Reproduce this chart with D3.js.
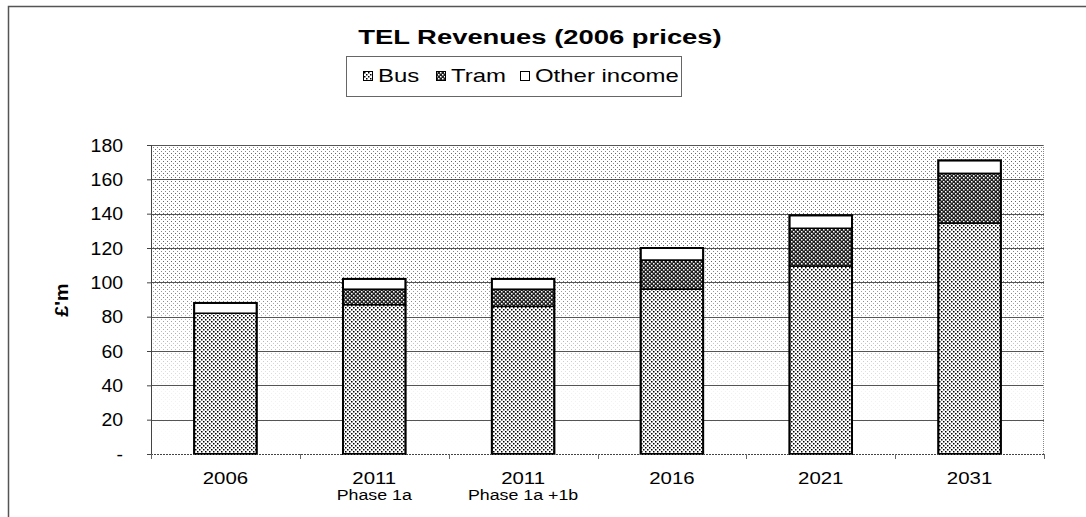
<!DOCTYPE html>
<meta charset="utf-8">
<script src="https://d3js.org/d3.v7.min.js"></script>
<style>
  body { margin: 0; background: #fff; }
  text { font-family: Arial, "Liberation Sans", sans-serif; fill: #000; }
</style>
<div id="chart"></div>
<script>

// data (£m, 2006 prices)
var years = ["2006", "2011", "2011b", "2016", "2021", "2031"];
var yearLabels = ["2006", "2011", "2011", "2016", "2021", "2031"];
var subLabels = ["", "Phase 1a", "Phase 1a +1b", "", "", ""];
var bus = [82, 87, 86, 96, 109.5, 134.5];
var tram = [0, 9, 10, 17, 22, 29];
var other = [6, 6, 6, 7, 7.5, 7.5];
var series = ["Bus", "Tram", "Other income"];
var yTicks = [0, 20, 40, 60, 80, 100, 120, 140, 160, 180];

var W = 1086, H = 517;
var margin = {top: 145, right: 42, bottom: 63, left: 151},
    width = W - margin.left - margin.right,
    height = H - margin.top - margin.bottom;

// the original text is rendered wide, so stretch each label horizontally
function stretch(sel, k) {
  sel.each(function() {
    var len = this.getComputedTextLength();
    if (len > 0) d3.select(this).attr("textLength", len * k).attr("lengthAdjust", "spacingAndGlyphs");
  });
}

var svg = d3.select("#chart").append("svg")
    .attr("width", W).attr("height", H);

var defs = svg.append("defs");

// plot background: grey dots
var bg = defs.append("pattern").attr("id", "bgdots")
    .attr("patternUnits", "userSpaceOnUse").attr("width", 4).attr("height", 4);
bg.append("rect").attr("width", 4).attr("height", 4).attr("fill", "#fff");
bg.append("rect").attr("x", 0).attr("y", 0).attr("width", 1).attr("height", 1).attr("fill", "#666");
bg.append("rect").attr("x", 2).attr("y", 2).attr("width", 1).attr("height", 1).attr("fill", "#888");

// fades the dots out towards the bottom
var fade = defs.append("linearGradient").attr("id", "fade")
    .attr("x1", 0).attr("y1", 0).attr("x2", 0).attr("y2", 1);
fade.append("stop").attr("offset", "0%").attr("stop-color", "#fff").attr("stop-opacity", 0);
fade.append("stop").attr("offset", "40%").attr("stop-color", "#fff").attr("stop-opacity", 0);
fade.append("stop").attr("offset", "80%").attr("stop-color", "#fff").attr("stop-opacity", 0.9);
fade.append("stop").attr("offset", "100%").attr("stop-color", "#fff").attr("stop-opacity", 1);

// bus: black dots on white
var pb = defs.append("pattern").attr("id", "pbus")
    .attr("patternUnits", "userSpaceOnUse").attr("width", 4).attr("height", 4);
pb.append("rect").attr("width", 4).attr("height", 4).attr("fill", "#fff");
pb.append("rect").attr("x", 0).attr("y", 0).attr("width", 1.5).attr("height", 1.5).attr("fill", "#000");
pb.append("rect").attr("x", 2).attr("y", 2).attr("width", 1.5).attr("height", 1.5).attr("fill", "#000");

// tram: dense dark checker
var pt = defs.append("pattern").attr("id", "ptram")
    .attr("patternUnits", "userSpaceOnUse").attr("width", 4).attr("height", 4);
pt.append("rect").attr("width", 4).attr("height", 4).attr("fill", "#222");
pt.append("rect").attr("x", 0).attr("y", 0).attr("width", 1.5).attr("height", 1.5).attr("fill", "#fff");
pt.append("rect").attr("x", 2).attr("y", 2).attr("width", 1.5).attr("height", 1.5).attr("fill", "#fff");

var fills = ["url(#pbus)", "url(#ptram)", "#fff"];

// outer chart border
svg.append("path").attr("d", "M8.5," + H + "V6.5H" + W)
    .attr("fill", "none").attr("stroke", "#555").attr("stroke-width", 1.5);

// title
svg.append("text").attr("x", 540).attr("y", 44).attr("text-anchor", "middle")
    .style("font-size", "20px").style("font-weight", "bold")
    .text("TEL Revenues (2006 prices)")
    .call(stretch, 1.37);

// legend
var leg = svg.append("g");
leg.append("rect").attr("x", 346.5).attr("y", 56.5).attr("width", 335).attr("height", 40)
    .attr("fill", "#fff").attr("stroke", "#666");
var legX = [363, 436, 520];
series.forEach(function(s, i) {
  leg.append("rect").attr("x", legX[i] + 0.5).attr("y", 71.5).attr("width", 9).attr("height", 9)
      .attr("fill", fills[i]).attr("stroke", "#000");
  leg.append("text").attr("x", legX[i] + 15).attr("y", 82)
      .style("font-size", "19px").text(s)
      .call(stretch, 1.26);
});

var g = svg.append("g").attr("transform", "translate(" + margin.left + "," + margin.top + ")");

var x = d3.scaleBand().domain(years).range([0, width]).paddingInner(0.58).paddingOuter(0.29);
var y = d3.scaleLinear().domain([0, 180]).range([height, 0]);

// background
g.append("rect").attr("width", width).attr("height", height).attr("fill", "url(#bgdots)");
g.append("rect").attr("width", width).attr("height", height).attr("fill", "url(#fade)");

// gridlines
g.append("g").selectAll("line").data(yTicks.slice(1)).join("line")
    .attr("x1", 0).attr("x2", width)
    .attr("y1", function(d) { return Math.round(y(d)) + 0.5; })
    .attr("y2", function(d) { return Math.round(y(d)) + 0.5; })
    .attr("stroke", "#555").attr("stroke-width", 1.2);

// dotted frame edges
g.append("line").attr("x1", 0.5).attr("x2", 0.5).attr("y1", 0).attr("y2", height)
    .attr("stroke", "#444").attr("stroke-dasharray", "1,1");
g.append("line").attr("x1", width - 0.5).attr("x2", width - 0.5).attr("y1", 0).attr("y2", height)
    .attr("stroke", "#888").attr("stroke-dasharray", "1,1");

// stacked bars
var table = years.map(function(k, i) { return {key: k, Bus: bus[i], Tram: tram[i], "Other income": other[i]}; });
var stack = d3.stack().keys(series)(table);

stack.forEach(function(layer, li) {
  g.append("g").selectAll("rect").data(layer).join("rect")
      .attr("x", function(d) { return x(d.data.key); })
      .attr("y", function(d) { return y(d[1]); })
      .attr("width", x.bandwidth())
      .attr("height", function(d) { return y(d[0]) - y(d[1]); })
      .attr("fill", fills[li])
      .attr("stroke", "#000").attr("stroke-width", 1.5);
});
// heavier outline round each whole bar
g.append("g").selectAll("rect").data(table).join("rect")
    .attr("x", function(d) { return x(d.key); })
    .attr("y", function(d) { return y(d.Bus + d.Tram + d["Other income"]); })
    .attr("width", x.bandwidth())
    .attr("height", function(d) { return height - y(d.Bus + d.Tram + d["Other income"]); })
    .attr("fill", "none").attr("stroke", "#000").attr("stroke-width", 2);

// y axis
var yAxis = g.append("g")
    .call(d3.axisLeft(y).tickValues(yTicks).tickSize(4)
      .tickFormat(function(d) { return d === 0 ? "-" : d; }));
yAxis.select(".domain").attr("stroke", "#444").attr("stroke-dasharray", "1,1");
yAxis.selectAll("text").style("font-size", "18px").attr("x", -28).attr("dy", "0.35em")
    .call(stretch, 1.08);
yAxis.selectAll(".tick line").attr("stroke", "#444");

// x axis with ticks between categories
var xAxis = g.append("g").attr("transform", "translate(0," + height + ")");
xAxis.append("line").attr("x1", 0).attr("x2", width).attr("y1", 0.5).attr("y2", 0.5)
    .attr("stroke", "#444").attr("stroke-dasharray", "2,1");
var step = x.step();
xAxis.selectAll(".sep").data(d3.range(years.length + 1)).join("line")
    .attr("x1", function(i) { return Math.round(i * step) + 0.5; })
    .attr("x2", function(i) { return Math.round(i * step) + 0.5; })
    .attr("y1", 0).attr("y2", 5).attr("stroke", "#666");
xAxis.selectAll(".yr").data(years).join("text")
    .attr("x", function(d) { return x(d) + x.bandwidth() / 2; })
    .attr("y", 30).attr("text-anchor", "middle").style("font-size", "17px")
    .text(function(d, i) { return yearLabels[i]; })
    .call(stretch, 1.2);
xAxis.selectAll(".sub").data(years).join("text")
    .attr("x", function(d) { return x(d) + x.bandwidth() / 2; })
    .attr("y", 46).attr("text-anchor", "middle").style("font-size", "14px")
    .text(function(d, i) { return subLabels[i]; })
    .call(stretch, 1.27);

// y axis title
svg.append("text").attr("transform", "translate(68,300) rotate(-90)")
    .attr("text-anchor", "middle").style("font-size", "18px").style("font-weight", "bold")
    .text("£'m")
    .call(stretch, 1.1);

</script>
